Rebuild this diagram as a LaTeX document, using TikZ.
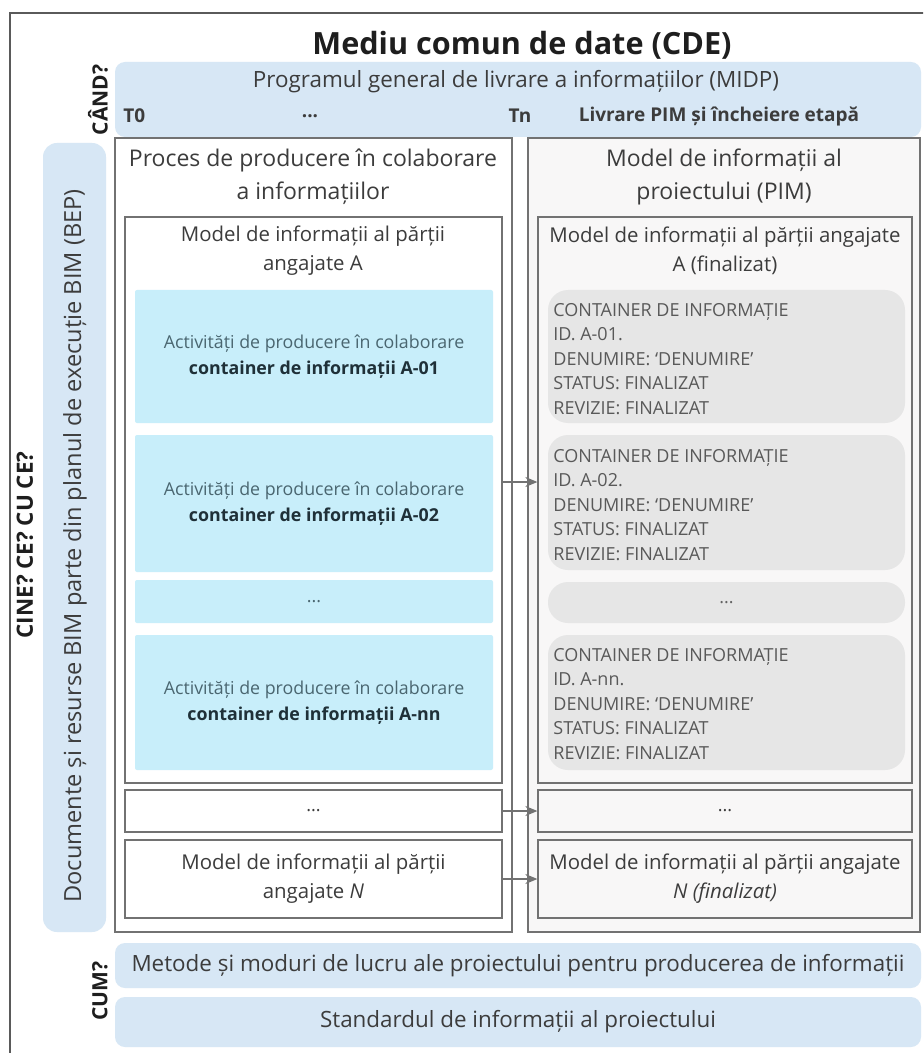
\documentclass[tikz,border=0pt]{standalone}
\usepackage{fontspec}
\setmainfont{Open Sans}
\usetikzlibrary{fit,arrows.meta}
\definecolor{bandblue}{HTML}{D7E7F5}
\definecolor{actblue}{HTML}{C8EEFA}
\definecolor{contgray}{HTML}{E6E6E6}
\definecolor{linegray}{HTML}{727272}
\definecolor{framegray}{HTML}{5A5A5A}
\definecolor{txt}{HTML}{3C3C3C}
\definecolor{titletxt}{HTML}{1E1E1E}
\definecolor{acttxt}{HTML}{4A6670}
\definecolor{acttxtb}{HTML}{1F3038}
\definecolor{pimbg}{HTML}{F8F7F7}
\newcommand{\fs}[2]{\fontsize{#1}{#2}\selectfont}
\tikzset{
  box/.style={draw=linegray, line width=0.65pt, inner sep=0pt},
  band/.style={fill=bandblue, rounded corners=5pt, inner sep=0pt},
  act/.style={fill=actblue, rounded corners=1pt, inner sep=0pt},
  cont/.style={fill=contgray, rounded corners=10pt, inner sep=0pt},
  arr/.style={draw=linegray, line width=0.7pt, -{Stealth[length=6pt,width=5pt]}},
  lbl/.style={text=txt, align=center, inner sep=0pt},
  coltitle/.style={lbl, font=\fs{11.5}{16.5}},
  subtitle/.style={lbl, font=\fs{10.2}{14.5}},
  acttext/.style={lbl, text=acttxt, font=\fs{8.9}{13}},
  conttext/.style={lbl, align=left, anchor=west, text=txt!85, font=\fs{9}{12.25}},
  side/.style={lbl, rotate=90, font=\bfseries\fs{10.5}{12}, text=titletxt},
}
\begin{document}
\begin{tikzpicture}[x=0.5pt,y=-0.5pt]
\useasboundingbox (0,0) rectangle (923,1053);
\clip (0,0) rectangle (923,1053);
\fill[white] (0,0) rectangle (923,1053);

% outer frame of the common data environment
\draw[framegray, line width=1.25pt] (10,13) rectangle (950,1075);
\node[lbl, text=titletxt, font=\bfseries\fs{15.3}{18}] (title) at (522,45) {Mediu comun de date (CDE)};

% WHEN band
\node[band, fit={(115,62) (921,137)}] (when) {};
\node[side] (whenq) at (98,100) {CÂND?};
\node[lbl, font=\fs{11.2}{14}] (midp) at (516,82) {Programul general de livrare a informațiilor (MIDP)};
\node[lbl, anchor=west, font=\bfseries\fs{9.5}{12}] (t0) at (123,116) {T0};
\node[lbl, font=\bfseries\fs{9.5}{12}] (tdots) at (310,116) {...};
\node[lbl, font=\bfseries\fs{9.5}{12}] (tn) at (520,116) {Tn};
\node[lbl, font=\bfseries\fs{9.5}{12}] (tend) at (719,116) {Livrare PIM și încheiere etapă};

% WHO / WHAT band
\node[band, rounded corners=7pt, fit={(43,143) (106,932)}] (bep) {};
\node[side, font=\bfseries\fs{11.2}{13}] (whoq) at (25,545) {CINE? CE? CU CE?};
\node[lbl, rotate=90, font=\fs{11.8}{14}] (beptxt) at (75,546) {Documente și resurse BIM parte din planul de execuție BIM (BEP)};

% columns
\node[box, fill=white, fit={(115,138) (512,932)}] (lcol) {};
\node[box, fill=pimbg, fit={(528,138) (920,932)}] (rcol) {};
\node[coltitle] (ltitle) at (313,177) {Proces de producere în colaborare\\a informațiilor};
\node[coltitle] (rtitle) at (724,177) {Model de informații al\\proiectului (PIM)};

% task team A, left
\node[box, fill=white, fit={(125,217) (502,783)}] (lA) {};
\node[subtitle] (lAt) at (313,251) {Model de informații al părții\\angajate A};
\node[act, fit={(135,290) (493,423)}] (a1) {};
\node[act, fit={(135,435) (493,572)}] (a2) {};
\node[act, fit={(135,580) (493,623)}] (a3) {};
\node[act, fit={(135,635) (493,770)}] (a4) {};
\node[acttext] at (a1) {Activități de producere în colaborare\\{\bfseries\color{acttxtb}container de informații A-01}};
\node[acttext] at (a2) {Activități de producere în colaborare\\{\bfseries\color{acttxtb}container de informații A-02}};
\node[acttext] at (a3) {...};
\node[acttext] at (a4) {Activități de producere în colaborare\\{\bfseries\color{acttxtb}container de informații A-nn}};

% task team A, right
\node[box, fill=pimbg, fit={(538,217) (912,783)}] (rA) {};
\node[subtitle] (rAt) at (725,251) {Model de informații al părții angajate\\A (finalizat)};
\node[cont, fit={(548,290) (905,423)}] (c1) {};
\node[cont, fit={(548,435) (905,570)}] (c2) {};
\node[cont, fit={(548,582) (905,623)}] (c3) {};
\node[cont, fit={(548,635) (905,770)}] (c4) {};
\node[conttext] at (553,359) {CONTAINER DE INFORMAȚIE\\ID. A-01.\\DENUMIRE: `DENUMIRE'\\STATUS: FINALIZAT\\REVIZIE: FINALIZAT};
\node[conttext] at (553,505) {CONTAINER DE INFORMAȚIE\\ID. A-02.\\DENUMIRE: `DENUMIRE'\\STATUS: FINALIZAT\\REVIZIE: FINALIZAT};
\node[lbl, text=txt!80, font=\fs{8.9}{12}] at (c3) {...};
\node[conttext] at (553,704) {CONTAINER DE INFORMAȚIE\\ID. A-nn.\\DENUMIRE: `DENUMIRE'\\STATUS: FINALIZAT\\REVIZIE: FINALIZAT};

% further task teams
\node[box, fill=white, fit={(125,790) (502,832)}] (lD) {};
\node[box, fill=pimbg, fit={(538,790) (912,832)}] (rD) {};
\node[lbl, font=\fs{9}{12}] at (lD) {...};
\node[lbl, font=\fs{9}{12}] at (rD) {...};
\node[box, fill=white, fit={(125,840) (502,918)}] (lN) {};
\node[box, fill=pimbg, fit={(538,840) (912,918)}] (rN) {};
\node[subtitle] at (lN) {Model de informații al părții\\angajate \textit{N}};
\node[subtitle] at (rN) {Model de informații al părții angajate\\\textit{N (finalizat)}};

% delivery arrows
\coordinate (ya) at (0,482);
\draw[arr] (lA.east |- ya) -- (rA.west |- ya);
\draw[arr] (lD.east) -- (rD.west);
\draw[arr] (lN.east) -- (rN.west);

% HOW bands
\node[band, fit={(115,943) (921,988)}] (how1) {};
\node[band, fit={(115,997) (921,1047)}] (how2) {};
\node[side] (howq) at (100,991) {CUM?};
\node[lbl, font=\fs{11.2}{14}] at (how1) {Metode și moduri de lucru ale proiectului pentru producerea de informații};
\node[lbl, font=\fs{11.2}{14}] at (how2) {Standardul de informații al proiectului};
\end{tikzpicture}
\end{document}
